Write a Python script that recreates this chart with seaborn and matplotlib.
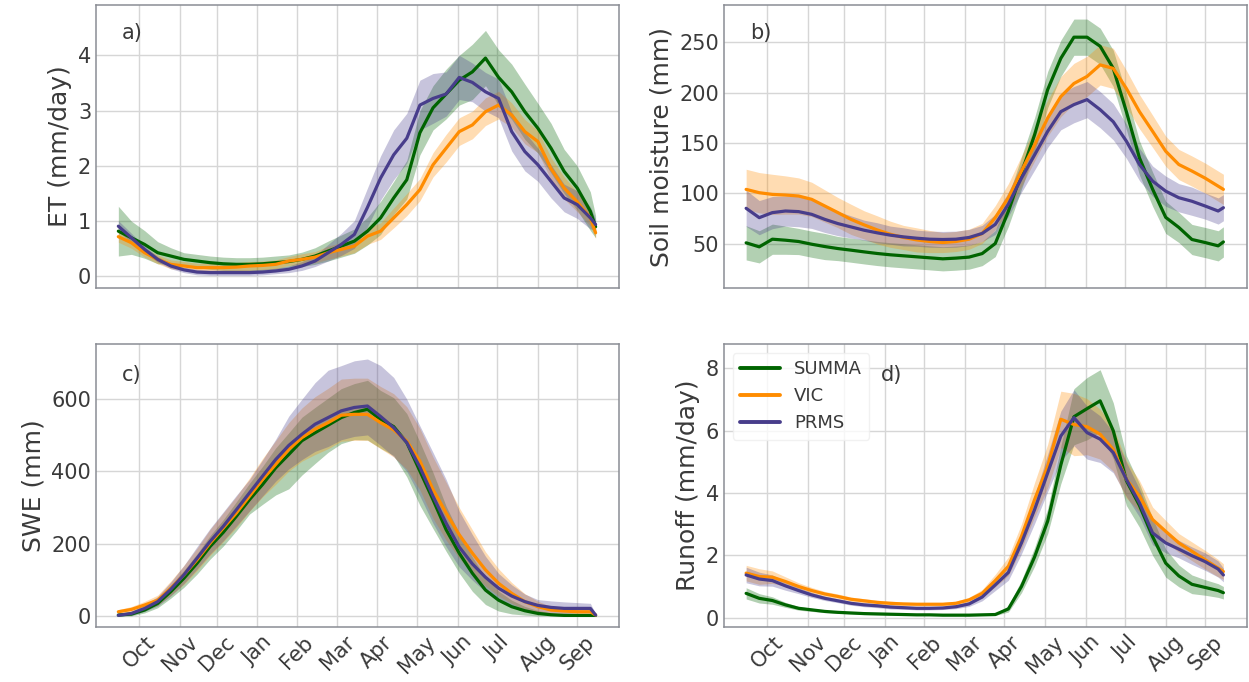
import matplotlib
matplotlib.use("Agg")
import matplotlib.pyplot as plt
import seaborn as sns
import pandas as pd

# ---------------- data (day of water year) ----------------
days = [0, 10, 20, 30, 40, 50, 60, 70, 80, 90, 100, 110, 120, 130, 140, 150, 160, 170, 180,
        190, 200, 210, 220, 230, 240, 250, 260, 270, 280, 290, 300, 310, 320, 330, 340, 350, 360, 364]

models = ["SUMMA", "VIC", "PRMS"]
colors = ["darkgreen", "darkorange", "darkslateblue"]

month_ticks = [16, 47, 75, 106, 136, 167, 197, 228, 259, 289, 320, 350]
month_labels = ["Oct", "Nov", "Dec", "Jan", "Feb", "Mar", "Apr", "May", "Jun", "Jul", "Aug", "Sep"]

# a) ET (mm/day)
et_summa = [0.82, 0.70, 0.58, 0.43, 0.37, 0.31, 0.28, 0.25, 0.23, 0.22, 0.22, 0.23, 0.25, 0.27, 0.31, 0.37, 0.46, 0.55, 0.64,
            0.82, 1.06, 1.42, 1.75, 2.60, 3.05, 3.30, 3.55, 3.70, 3.95, 3.60, 3.34, 2.98, 2.68, 2.32, 1.90, 1.60, 1.18, 0.90]
et_vic = [0.72, 0.61, 0.43, 0.31, 0.22, 0.19, 0.16, 0.16, 0.16, 0.17, 0.19, 0.20, 0.22, 0.28, 0.31, 0.35, 0.43, 0.49, 0.55,
          0.73, 0.82, 1.06, 1.30, 1.57, 2.02, 2.32, 2.62, 2.74, 2.98, 3.10, 2.92, 2.62, 2.44, 1.95, 1.60, 1.35, 1.06, 0.79]
et_prms = [0.91, 0.70, 0.49, 0.31, 0.19, 0.12, 0.08, 0.07, 0.07, 0.07, 0.07, 0.08, 0.10, 0.13, 0.19, 0.28, 0.43, 0.58, 0.76,
           1.25, 1.78, 2.20, 2.50, 3.10, 3.22, 3.30, 3.60, 3.51, 3.34, 3.22, 2.62, 2.26, 2.02, 1.72, 1.42, 1.30, 1.06, 0.94]
et_summa_sd = [0.45, 0.30, 0.25, 0.20, 0.15, 0.12, 0.12, 0.12, 0.12, 0.12, 0.12, 0.12, 0.12, 0.12, 0.13, 0.15, 0.18, 0.20, 0.22,
               0.25, 0.30, 0.30, 0.35, 0.40, 0.40, 0.45, 0.45, 0.50, 0.50, 0.50, 0.50, 0.50, 0.45, 0.45, 0.40, 0.40, 0.35, 0.20]
et_vic_sd = [0.10, 0.10, 0.08, 0.08, 0.08, 0.08, 0.08, 0.08, 0.08, 0.08, 0.08, 0.08, 0.08, 0.08, 0.10, 0.10, 0.12, 0.12, 0.12,
             0.15, 0.15, 0.18, 0.20, 0.20, 0.22, 0.25, 0.25, 0.25, 0.25, 0.25, 0.22, 0.22, 0.20, 0.20, 0.20, 0.18, 0.15, 0.10]
et_prms_sd = [0.10, 0.08, 0.06, 0.05, 0.05, 0.05, 0.05, 0.05, 0.05, 0.05, 0.05, 0.05, 0.05, 0.06, 0.08, 0.10, 0.15, 0.20, 0.25,
              0.35, 0.40, 0.45, 0.45, 0.45, 0.45, 0.40, 0.40, 0.35, 0.35, 0.35, 0.35, 0.35, 0.30, 0.30, 0.25, 0.25, 0.20, 0.10]

# b) Soil moisture (mm)
sm_summa = [50.7, 46.7, 54.3, 53.3, 52.0, 49.3, 47.0, 45.0, 43.4, 41.7, 40.1, 38.8, 37.8, 36.8, 35.8, 34.8, 35.5, 36.5, 40.0,
            50.0, 82.0, 120.0, 158.0, 203.0, 234.0, 255.0, 255.0, 246.0, 224.0, 181.0, 135.0, 104.0, 76.0, 66.0, 54.0, 51.0, 47.7, 51.6]
sm_vic = [103.8, 100.5, 98.8, 98.2, 97.2, 93.9, 87.3, 80.7, 74.0, 68.5, 63.5, 59.2, 56.0, 53.6, 52.0, 51.0, 52.0, 54.3, 60.0,
          75.7, 95.5, 122.0, 148.0, 174.7, 196.0, 209.0, 216.0, 227.5, 224.0, 204.0, 181.0, 161.5, 141.7, 128.5, 122.0, 115.0, 107.0, 103.8]
sm_prms = [85.0, 75.7, 80.7, 82.3, 81.7, 79.0, 74.0, 69.8, 66.5, 63.2, 60.6, 58.3, 56.6, 55.3, 54.3, 54.0, 54.3, 56.0, 60.0,
           69.0, 89.0, 115.0, 138.0, 161.5, 181.0, 188.0, 193.0, 183.0, 171.0, 151.7, 128.5, 112.0, 102.0, 95.5, 92.0, 87.3, 82.3, 85.6]
sm_summa_sd = [17, 16, 15, 14, 13, 13, 13, 12, 12, 12, 12, 12, 12, 12, 12, 12, 12, 12, 12,
               13, 15, 16, 17, 18, 18, 18, 18, 18, 18, 18, 17, 17, 16, 15, 15, 15, 15, 15]
sm_vic_sd = [20, 20, 20, 19, 18, 17, 16, 15, 15, 14, 14, 13, 12, 12, 11, 10, 10, 10, 10,
             12, 14, 15, 16, 18, 20, 20, 20, 20, 20, 18, 17, 16, 15, 15, 15, 15, 15, 15]
sm_prms_sd = [18, 17, 16, 15, 15, 14, 13, 12, 11, 10, 10, 9, 9, 8, 8, 8, 8, 8, 8,
              10, 12, 14, 15, 16, 18, 18, 18, 18, 18, 17, 16, 15, 15, 14, 14, 13, 13, 13]

# c) SWE (mm)
swe_summa = [3, 5.6, 16.7, 35, 67.6, 104.6, 146, 192.6, 231.5, 276, 322, 364, 410, 447, 485, 507, 528, 549, 563,
             572, 544, 524, 480, 401, 322, 239, 174, 118.5, 72, 44, 26, 14.8, 7.4, 3.7, 1.9, 1.9, 1.9, 1.9]
swe_vic = [12, 18.5, 30.6, 44, 77, 114, 155.6, 202, 243.5, 285, 331.5, 377.8, 419.4, 461, 493.5, 516.7, 535, 555.5, 558,
           558, 535, 515, 484, 428.7, 350, 285, 225, 174, 127.8, 90.7, 63, 40, 26, 16.7, 14, 12, 12, 3]
swe_prms = [2, 7.4, 21, 40, 74, 114, 160, 206.5, 248, 294, 340.7, 387, 433, 472, 502.8, 530.6, 549, 567.6, 577,
            581, 552, 521, 480, 412, 331.5, 257, 191, 144.4, 107.4, 77, 55.5, 40, 29.6, 24, 21.3, 21.3, 21.3, 3]
swe_summa_up = [3, 5, 8, 12, 18, 22, 26, 30, 35, 40, 45, 50, 55, 60, 65, 70, 75, 80, 80,
                80, 80, 80, 80, 80, 75, 65, 55, 45, 35, 25, 18, 12, 8, 5, 3, 2, 2, 2]
swe_summa_dn = [3, 5, 8, 12, 18, 25, 30, 35, 38, 40, 40, 55, 75, 95, 95, 85, 75, 72, 75,
                85, 80, 80, 95, 95, 80, 60, 55, 50, 40, 30, 20, 12, 7, 3, 1.9, 1.9, 1.9, 1.9]
swe_vic_up = [6, 8, 10, 14, 20, 26, 32, 38, 42, 46, 50, 58, 66, 74, 82, 90, 95, 100, 100,
              100, 100, 100, 95, 90, 90, 85, 75, 65, 50, 40, 30, 22, 15, 10, 8, 6, 6, 3]
swe_vic_dn = [6, 8, 10, 14, 20, 26, 30, 34, 38, 40, 42, 48, 55, 60, 65, 70, 72, 72, 72,
              72, 72, 75, 78, 80, 80, 75, 65, 55, 45, 35, 28, 22, 15, 10, 8, 6, 6, 3]
swe_prms_up = [3, 6, 10, 14, 20, 26, 32, 36, 40, 40, 37, 45, 56, 81, 97, 115, 131, 125, 129,
               130, 141, 139, 120, 114, 121, 121, 99, 81, 58, 41, 31, 21, 16, 18, 18, 16, 14, 3]
swe_prms_dn = [2, 5, 8, 12, 18, 24, 30, 35, 40, 45, 50, 55, 60, 65, 70, 75, 80, 80, 80,
               80, 80, 80, 80, 80, 75, 65, 55, 45, 40, 35, 30, 25, 20, 16, 14, 12, 12, 2]

# d) Runoff (mm/day)
ro_summa = [0.78, 0.62, 0.55, 0.41, 0.30, 0.25, 0.20, 0.17, 0.15, 0.13, 0.12, 0.11, 0.10, 0.09, 0.09, 0.08, 0.08, 0.08, 0.09,
            0.10, 0.28, 1.00, 1.95, 3.10, 4.90, 6.45, 6.71, 6.96, 6.00, 4.40, 3.60, 2.60, 1.75, 1.34, 1.07, 0.97, 0.87, 0.80]
ro_vic = [1.43, 1.32, 1.30, 1.16, 1.00, 0.87, 0.76, 0.68, 0.59, 0.54, 0.49, 0.46, 0.44, 0.43, 0.43, 0.43, 0.46, 0.57, 0.78,
          1.19, 1.65, 2.61, 3.79, 4.87, 6.37, 6.20, 6.13, 5.89, 5.40, 4.44, 3.90, 3.15, 2.77, 2.40, 2.13, 1.86, 1.59, 1.48]
ro_prms = [1.37, 1.24, 1.19, 1.02, 0.87, 0.73, 0.62, 0.54, 0.46, 0.41, 0.38, 0.34, 0.32, 0.30, 0.30, 0.31, 0.35, 0.44, 0.66,
           1.05, 1.45, 2.40, 3.47, 4.65, 5.83, 6.42, 5.94, 5.73, 5.30, 4.44, 3.68, 2.72, 2.40, 2.20, 1.99, 1.80, 1.56, 1.37]
ro_summa_sd = [0.18, 0.15, 0.12, 0.08, 0.06, 0.05, 0.04, 0.03, 0.03, 0.03, 0.03, 0.03, 0.03, 0.02, 0.02, 0.02, 0.02, 0.02, 0.02,
               0.03, 0.10, 0.20, 0.30, 0.40, 0.60, 0.90, 1.00, 1.00, 0.90, 0.80, 0.70, 0.60, 0.45, 0.35, 0.30, 0.25, 0.22, 0.20]
ro_vic_sd = [0.25, 0.25, 0.20, 0.15, 0.12, 0.10, 0.08, 0.08, 0.07, 0.07, 0.07, 0.07, 0.06, 0.06, 0.06, 0.06, 0.07, 0.08, 0.12,
             0.20, 0.30, 0.40, 0.55, 0.70, 0.90, 1.00, 0.90, 0.80, 0.70, 0.60, 0.50, 0.40, 0.35, 0.30, 0.30, 0.30, 0.28, 0.25]
ro_prms_sd = [0.25, 0.22, 0.18, 0.14, 0.10, 0.08, 0.07, 0.06, 0.06, 0.06, 0.06, 0.06, 0.05, 0.05, 0.05, 0.05, 0.06, 0.08, 0.12,
              0.18, 0.25, 0.35, 0.45, 0.60, 0.80, 0.90, 0.85, 0.75, 0.65, 0.55, 0.45, 0.38, 0.32, 0.28, 0.28, 0.28, 0.26, 0.22]

panels = [
    dict(label="a)", ylabel="ET (mm/day)", ylim=(-0.21, 4.91), yticks=[0, 1, 2, 3, 4], lx=0.05, ly=0.90,
         means=[et_summa, et_vic, et_prms],
         dn=[et_summa_sd, et_vic_sd, et_prms_sd], up=[et_summa_sd, et_vic_sd, et_prms_sd]),
    dict(label="b)", ylabel="Soil moisture (mm)", ylim=(5.7, 287), yticks=[50, 100, 150, 200, 250], lx=0.05, ly=0.90,
         means=[sm_summa, sm_vic, sm_prms],
         dn=[sm_summa_sd, sm_vic_sd, sm_prms_sd], up=[sm_summa_sd, sm_vic_sd, sm_prms_sd]),
    dict(label="c)", ylabel="SWE (mm)", ylim=(-31, 752), yticks=[0, 200, 400, 600], lx=0.05, ly=0.89,
         means=[swe_summa, swe_vic, swe_prms],
         dn=[swe_summa_dn, swe_vic_dn, swe_prms_dn], up=[swe_summa_up, swe_vic_up, swe_prms_up]),
    dict(label="d)", ylabel="Runoff (mm/day)", ylim=(-0.31, 8.78), yticks=[0, 2, 4, 6, 8], lx=0.30, ly=0.89,
         means=[ro_summa, ro_vic, ro_prms],
         dn=[ro_summa_sd, ro_vic_sd, ro_prms_sd], up=[ro_summa_sd, ro_vic_sd, ro_prms_sd]),
]

# ---------------- style ----------------
sns.set_theme(style="whitegrid")
plt.rcParams["font.family"] = ["DejaVu Sans"]
text_col = "#3a3a3a"
plt.rcParams.update({
    "axes.edgecolor": "#8a8d94",
    "grid.color": "#d6d6d6",
    "text.color": text_col,
    "axes.labelcolor": text_col,
    "xtick.color": text_col,
    "ytick.color": text_col,
})

fig, axes = plt.subplots(2, 2, figsize=(12.49, 6.82), dpi=100, sharex=True)
fig.subplots_adjust(left=0.0769, right=0.9984, top=0.9927, bottom=0.0802, wspace=0.20, hspace=0.198)
palette = dict(zip(models, colors))

for ax, p in zip(axes.flat, panels):
    rows = []
    for m, vals in zip(models, p["means"]):
        for d, v in zip(days, vals):
            rows.append({"day": d, "value": v, "model": m})
    df = pd.DataFrame(rows)
    for m, c, vals, lo, hi in zip(models, colors, p["means"], p["dn"], p["up"]):
        ax.fill_between(days, [v - e for v, e in zip(vals, lo)], [v + e for v, e in zip(vals, hi)],
                        color=c, alpha=0.3, linewidth=0)
    sns.lineplot(data=df, x="day", y="value", hue="model", hue_order=models, palette=palette,
                 linewidth=2.3, ax=ax, legend=(p["label"] == "d)"))
    ax.set_ylim(*p["ylim"])
    ax.set_yticks(p["yticks"])
    ax.set_xlim(-17, 382)
    ax.set_xticks(month_ticks)
    ax.set_xticklabels(month_labels)
    ax.set_xlabel("")
    ax.set_ylabel(p["ylabel"], fontsize=18)
    ax.tick_params(axis="both", labelsize=15, length=0)
    for s in ax.spines.values():
        s.set_color("#8a8d94")
        s.set_linewidth(1.1)
    ax.text(p["lx"], p["ly"], p["label"], transform=ax.transAxes, fontsize=15, va="center", ha="left", color=text_col)

for ax in axes[1]:
    for lab in ax.get_xticklabels():
        lab.set_rotation(45)
        lab.set_ha("center")

leg = axes[1, 1].legend(loc="upper left", fontsize=13, frameon=True, framealpha=0.8,
                        edgecolor="#eeeeee", handlelength=2.2)
for line in leg.get_lines():
    line.set_linewidth(2.8)

fig.savefig("out.png", dpi=100)
